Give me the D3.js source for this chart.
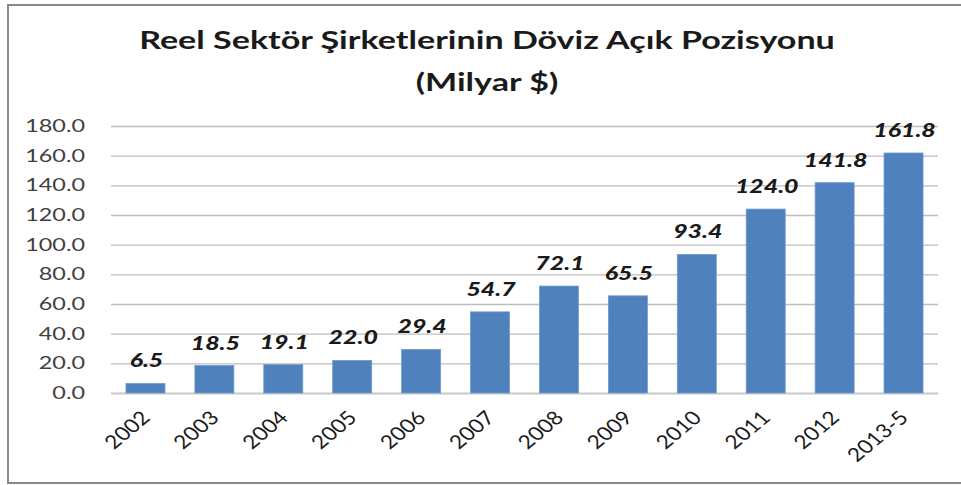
<!DOCTYPE html>
<html>
<head>
<meta charset="utf-8">
<script src="https://cdn.jsdelivr.net/npm/d3@7"></script>
<style>
  body { margin: 0; background: #fff; }
  text { font-family: Lato, "Open Sans", sans-serif; }
</style>
</head>
<body>
<div class="chart"></div>
<script>
// data
var years = ["2002", "2003", "2004", "2005", "2006", "2007", "2008", "2009", "2010", "2011", "2012", "2013-5"];
var values = [6.5, 18.5, 19.1, 22.0, 29.4, 54.7, 72.1, 65.5, 93.4, 124.0, 141.8, 161.8];
var yTicks = [0, 20, 40, 60, 80, 100, 120, 140, 160, 180];
var titleLines = ["Reel Sektör Şirketlerinin Döviz Açık Pozisyonu", "(Milyar $)"];

var width = 961, height = 485;
var sx = 1.3; // the picture is stretched sideways

var svg = d3.select(".chart")
    .append("svg")
    .attr("width", width)
    .attr("height", height);

// frame (no right edge in the picture)
svg.append("path")
    .attr("d", "M961,5 H8 V483 H961")
    .attr("fill", "none")
    .attr("stroke", "#8a8a8a")
    .attr("stroke-width", 2);

var x = d3.scaleBand()
    .domain(years)
    .range([111, 938])
    .paddingInner(0.434)
    .paddingOuter(0.217);

var y = d3.scaleLinear()
    .domain([0, 180])
    .range([393, 126]);

// title
svg.selectAll(".title")
    .data(titleLines)
    .enter()
    .append("text")
    .attr("class", "title")
    .attr("text-anchor", "middle")
    .attr("transform", function(d, i) {
        return "translate(487," + (i == 0 ? 49 : 91) + ") scale(1.42,1)";
    })
    .style("font-size", "24px")
    .style("font-weight", "bold")
    .style("fill", "#1a1a1a")
    .text(function(d) { return d; });

// gridlines
svg.append("g")
    .selectAll("line")
    .data(yTicks)
    .enter()
    .append("line")
    .attr("x1", 111)
    .attr("x2", 938)
    .attr("y1", function(d) { return y(d) + 0.5; })
    .attr("y2", function(d) { return y(d) + 0.5; })
    .attr("stroke", function(d) { return d == 0 ? "#c8c8c8" : "#bdbdbd"; })
    .attr("stroke-width", function(d) { return d == 0 ? 2 : 1.3; });

// y tick labels
svg.append("g")
    .selectAll("text")
    .data(yTicks)
    .enter()
    .append("text")
    .attr("text-anchor", "end")
    .attr("transform", function(d) {
        return "translate(85," + (y(d) + 6) + ") scale(" + sx + ",1)";
    })
    .style("font-size", "18px")
    .style("fill", "#404040")
    .text(function(d) { return d3.format(".1f")(d); });

// bars
svg.append("g")
    .selectAll("rect")
    .data(values)
    .enter()
    .append("rect")
    .attr("x", function(d, i) { return x(years[i]); })
    .attr("width", x.bandwidth())
    .attr("y", function(d) { return y(d); })
    .attr("height", function(d) { return y(0) - y(d); })
    .attr("fill", "#4f81bd")
    .attr("stroke", "#6f9bd0")
    .attr("stroke-width", 0.8);

// value labels
svg.append("g")
    .selectAll("text")
    .data(values)
    .enter()
    .append("text")
    .attr("text-anchor", "middle")
    .attr("transform", function(d, i) {
        return "translate(" + (x(years[i]) + x.bandwidth() / 2 + 1) + "," + (y(d) - 16) + ") scale(1.38,1)";
    })
    .style("font-size", "18px")
    .style("font-weight", "900")
    .style("font-style", "italic")
    .style("fill", "#1a1a1a")
    .text(function(d) { return d3.format(".1f")(d); });

// x tick labels, tilted
svg.append("g")
    .selectAll("text")
    .data(years)
    .enter()
    .append("text")
    .attr("text-anchor", "end")
    .attr("transform", function(d) {
        return "translate(" + (x(d) + x.bandwidth() / 2 + 6) + ",419) scale(1.2,1) rotate(-45)";
    })
    .style("font-size", "19px")
    .style("fill", "#1a1a1a")
    .text(function(d) { return d; });
</script>
</body>
</html>
